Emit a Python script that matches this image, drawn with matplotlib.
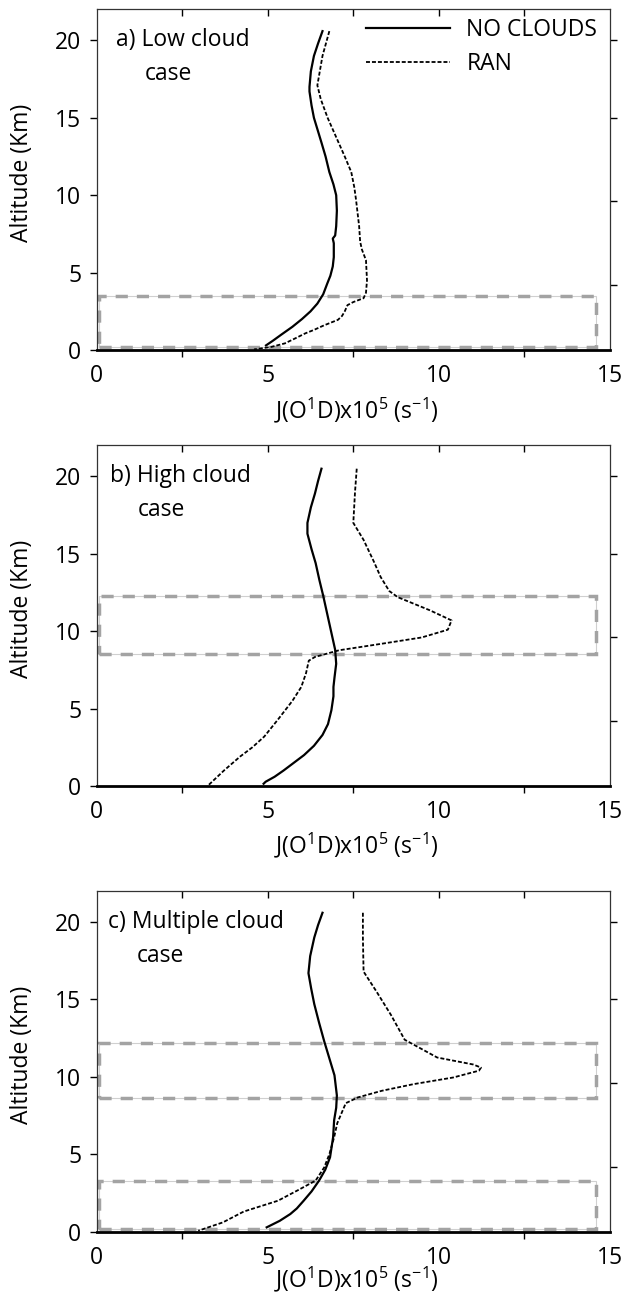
import matplotlib
matplotlib.use('Agg')
import matplotlib.pyplot as plt
from matplotlib.patches import Rectangle

plt.rcParams['font.family'] = ['Open Sans', 'DejaVu Sans']
plt.rcParams['mathtext.fontset'] = 'custom'
plt.rcParams['mathtext.rm'] = 'Open Sans'
plt.rcParams['mathtext.it'] = 'Open Sans'

# a) low cloud case
alt_a_clear = [20.6, 19.8, 19.0, 18.0, 17.0, 16.7, 15.8, 15.0, 14.2, 13.4, 12.5, 11.5, 10.7, 10.0, 9.0, 8.0, 7.4, 7.2, 6.9, 6.0, 5.4, 4.8, 4.3, 3.6, 3.0, 2.5, 2.0, 1.5, 1.0, 0.6, 0.3]
j_a_clear = [6.6, 6.47, 6.35, 6.26, 6.22, 6.22, 6.28, 6.35, 6.46, 6.57, 6.69, 6.8, 6.92, 7.0, 7.02, 7.0, 6.97, 6.9, 6.93, 6.93, 6.9, 6.83, 6.74, 6.62, 6.45, 6.25, 6.0, 5.72, 5.4, 5.15, 4.95]
alt_a_ran = [20.6, 19.0, 17.1, 16.2, 15.0, 13.6, 12.5, 11.5, 10.5, 9.7, 8.0, 7.0, 6.5, 5.8, 4.5, 3.7, 3.35, 3.1, 2.9, 2.5, 2.2, 1.95, 1.6, 1.3, 1.08, 0.75, 0.43, 0.2, 0.04]
j_a_ran = [6.8, 6.6, 6.45, 6.55, 6.75, 7.03, 7.25, 7.44, 7.53, 7.58, 7.67, 7.7, 7.75, 7.87, 7.9, 7.87, 7.8, 7.5, 7.33, 7.25, 7.17, 7.05, 6.65, 6.35, 6.1, 5.8, 5.5, 5.1, 4.6]

# b) high cloud case
alt_b_clear = [20.5, 19.7, 18.9, 18.0, 17.0, 16.3, 15.3, 14.4, 13.3, 12.3, 11.2, 10.1, 8.8, 7.9, 7.0, 6.4, 5.8, 4.9, 4.0, 3.3, 2.6, 2.0, 1.4, 1.0, 0.6, 0.28, 0.15]
j_b_clear = [6.57, 6.47, 6.38, 6.26, 6.16, 6.16, 6.28, 6.4, 6.51, 6.62, 6.73, 6.84, 6.97, 7.0, 6.95, 6.92, 6.92, 6.86, 6.76, 6.6, 6.35, 6.06, 5.7, 5.46, 5.2, 4.94, 4.88]
alt_b_ran = [20.5, 19.0, 17.0, 15.9, 14.5, 13.5, 12.6, 12.2, 11.35, 10.7, 10.1, 9.6, 9.2, 8.77, 8.34, 8.1, 7.3, 6.4, 5.5, 4.3, 3.2, 2.5, 1.9, 1.0, 0.06]
j_b_ran = [7.6, 7.55, 7.5, 7.8, 8.1, 8.3, 8.55, 8.8, 9.74, 10.37, 10.26, 9.5, 8.35, 7.08, 6.38, 6.2, 6.12, 5.98, 5.72, 5.3, 4.9, 4.55, 4.19, 3.72, 3.27]

# c) multiple cloud case
alt_c_clear = [20.6, 19.8, 19.0, 17.8, 16.7, 15.7, 14.7, 13.5, 12.3, 11.2, 10.1, 8.8, 8.0, 7.2, 6.1, 4.8, 4.0, 3.3, 2.6, 2.0, 1.5, 1.14, 0.7, 0.28]
j_c_clear = [6.6, 6.47, 6.36, 6.24, 6.19, 6.27, 6.36, 6.5, 6.65, 6.8, 6.95, 7.02, 7.0, 6.94, 6.91, 6.82, 6.68, 6.5, 6.28, 6.05, 5.85, 5.66, 5.35, 4.97]
alt_c_ran = [20.6, 19.0, 16.8, 15.5, 14.0, 12.4, 11.25, 10.8, 10.6, 10.4, 9.96, 9.53, 9.1, 8.67, 8.3, 7.0, 6.1, 5.0, 4.15, 3.3, 2.7, 2.0, 1.3, 0.6, 0.06]
j_c_ran = [7.78, 7.78, 7.8, 8.18, 8.6, 9.0, 9.95, 11.0, 11.23, 11.17, 10.42, 9.26, 8.33, 7.63, 7.28, 7.03, 6.94, 6.8, 6.65, 6.4, 5.9, 5.3, 4.3, 3.69, 2.97]

# cloud layers (base, top) in km
clouds_a = [(0.2, 3.5)]
clouds_b = [(8.55, 12.3)]
clouds_c = [(8.65, 12.2), (0.2, 3.25)]

titles = [("a) Low cloud", 0.038, 0.093), ("b) High cloud", 0.026, 0.081), ("c) Multiple cloud", 0.023, 0.078)]

fig = plt.figure(figsize=(6.24, 12.95), dpi=100)
bottoms = [0.7297, 0.393, 0.0489]
xlabel_y = [-0.135, -0.13, -0.097]
panels = [
    (alt_a_clear, j_a_clear, alt_a_ran, j_a_ran, clouds_a),
    (alt_b_clear, j_b_clear, alt_b_ran, j_b_ran, clouds_b),
    (alt_c_clear, j_c_clear, alt_c_ran, j_c_ran, clouds_c),
]
fs = 16.5

for i, (ya, xa, yr, xr, clouds) in enumerate(panels):
    ax = fig.add_axes([0.1547, bottoms[i], 0.823, 0.263])

    # cloud boxes: thin light outline + thick gray dashes
    for base, top in clouds:
        ax.add_patch(Rectangle((0.08, base), 14.5, top - base, fill=False,
                               edgecolor='#d0d0d0', lw=0.8, zorder=1))
        ax.add_patch(Rectangle((0.08, base), 14.5, top - base, fill=False,
                               edgecolor='#a3a3a3', lw=2.5, linestyle=(0, (3.5, 2.6)), zorder=1))

    ax.plot(xa, ya, color='black', lw=1.6, label='NO CLOUDS', zorder=3)
    ax.plot(xr, yr, color='black', lw=1.3, dashes=(2.2, 1.1), label='RAN', zorder=3)

    ax.set_xlim(0, 15)
    ax.set_ylim(0, 22)
    ax.set_xticks([0, 5, 10, 15])
    ax.set_xticks([2.5, 7.5, 12.5], minor=True)
    ax.set_yticks([0, 5, 10, 15, 20])
    ax.tick_params(axis='x', which='major', length=0, pad=10, labelsize=fs)
    ax.tick_params(axis='x', which='minor', length=5, width=1, direction='out')
    ax.tick_params(axis='y', which='major', length=5, width=1, direction='out', pad=6, labelsize=fs)

    for s in ['left', 'top', 'right']:
        ax.spines[s].set_color('#333333')
        ax.spines[s].set_linewidth(0.9)
    ax.spines['bottom'].set_linewidth(2.0)
    ax.spines['bottom'].set_color('black')

    top_ax = ax.secondary_xaxis('top')
    top_ax.set_xticks([2.5, 5, 7.5, 10, 12.5])
    top_ax.tick_params(direction='in', length=5, width=1, labeltop=False)
    top_ax.spines['top'].set_visible(False)
    right_ax = ax.secondary_yaxis('right')
    right_ax.set_yticks([4.2, 9.6, 15, 20])
    right_ax.tick_params(direction='out', length=5, width=1, labelright=False)
    right_ax.spines['right'].set_visible(False)

    ax.set_xlabel(r'J(O$^{1}$D)x10$^{5}$ (s$^{-1}$)', fontsize=fs)
    ax.xaxis.set_label_coords(0.505, xlabel_y[i])
    ax.set_ylabel('Altitude (Km)', fontsize=fs)
    ax.yaxis.set_label_coords(-0.122, 0.52)

    name, x1, x2 = titles[i]
    ax.text(x1, 0.91, name, transform=ax.transAxes, fontsize=fs, va='center', ha='left')
    ax.text(x2, 0.81, 'case', transform=ax.transAxes, fontsize=fs, va='center', ha='left')

    if i == 0:
        ax.legend(loc='upper right', bbox_to_anchor=(0.975, 0.975), frameon=False,
                  fontsize=fs, handlelength=3.7, handletextpad=0.7, labelspacing=0.45,
                  borderpad=0, borderaxespad=0)

fig.savefig('out.png', dpi=100)
